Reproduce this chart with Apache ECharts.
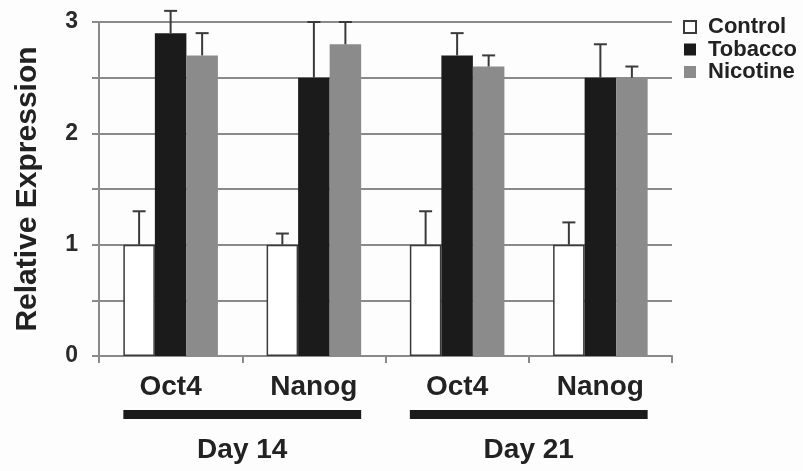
<!DOCTYPE html>
<html>
<head>
<meta charset="utf-8">
<script src="https://cdn.jsdelivr.net/npm/echarts@6/dist/echarts.min.js"></script>
<style>
  html, body { margin: 0; padding: 0; background: #fdfdfd; }
  #chart { width: 803px; height: 471px; }
</style>
</head>
<body>
<div id="chart"></div>
<script>
// Genes measured at each time point
const genes = ['Oct4', 'Nanog', 'Oct4', 'Nanog'];
const days = ['Day 14', 'Day 21'];
const yTicks = [0, 1, 2, 3];

// Mean relative expression and upper error (SD) per treatment
const controlMean  = [1.0, 1.0, 1.0, 1.0];
const controlErr   = [0.3, 0.1, 0.3, 0.2];
const tobaccoMean  = [2.9, 2.5, 2.7, 2.5];
const tobaccoErr   = [0.2, 0.5, 0.2, 0.3];
const nicotineMean = [2.7, 2.8, 2.6, 2.5];
const nicotineErr  = [0.2, 0.2, 0.1, 0.1];

const GROUP_FRACTION = 0.66;   // share of each category taken by the three bars
const FONT = 'Liberation Sans, Arial, sans-serif';

const treatments = [
  { name: 'Control',  mean: controlMean,  err: controlErr,
    style: { color: '#ffffff', borderColor: '#3a3a3a', borderWidth: 1.5 } },
  { name: 'Tobacco',  mean: tobaccoMean,  err: tobaccoErr,
    style: { color: '#1b1b1b' } },
  { name: 'Nicotine', mean: nicotineMean, err: nicotineErr,
    style: { color: '#8b8b8b' } }
];

const barSeries = treatments.map(t => ({
  name: t.name,
  type: 'bar',
  xAxisIndex: 0,
  data: t.mean,
  barGap: '0%',
  barCategoryGap: ((1 - GROUP_FRACTION) * 100) + '%',
  itemStyle: t.style,
  z: 2
}));

// Upper error bars: [category index, mean, error, position in group]
const errData = [];
treatments.forEach((t, k) => {
  t.mean.forEach((m, i) => errData.push([i, m, t.err[i], k]));
});

const errorSeries = {
  type: 'custom',
  xAxisIndex: 0,
  z: 5,
  silent: true,
  data: errData,
  renderItem: function (params, api) {
    const ci = api.value(0), m = api.value(1), e = api.value(2), k = api.value(3);
    const catW = api.size([1, 0])[0];
    const barW = catW * GROUP_FRACTION / 3;
    const cx = api.coord([ci, 0])[0] + (k - 1) * barW;
    const yTop = api.coord([ci, m])[1];
    const yCap = api.coord([ci, m + e])[1];
    const capHalf = 6.5;
    const st = { stroke: '#3a3a3a', lineWidth: 2 };
    return {
      type: 'group',
      children: [
        { type: 'line', shape: { x1: cx, y1: yTop, x2: cx, y2: yCap }, style: st },
        { type: 'line', shape: { x1: cx - capHalf, y1: yCap, x2: cx + capHalf, y2: yCap }, style: st }
      ]
    };
  }
};

const chart = echarts.init(document.getElementById('chart'));

chart.setOption({
  backgroundColor: '#fdfdfd',
  animation: false,
  textStyle: { fontFamily: FONT },
  grid: { left: 99, right: 131, top: 22, bottom: 115 },
  legend: {
    data: treatments.map(t => ({ name: t.name, icon: 'rect' })),
    orient: 'vertical',
    left: 683,
    top: 16,
    padding: 0,
    itemWidth: 12,
    itemHeight: 12,
    itemGap: 0.5,
    textStyle: { fontSize: 22, fontWeight: 'bold', color: '#222', fontFamily: FONT, padding: [0, 0, 0, 7] }
  },
  xAxis: [
    {
      type: 'category',
      data: genes,
      position: 'bottom',
      axisLine: { lineStyle: { color: '#8a8a8a', width: 2 } },
      axisTick: { show: true, length: 7, lineStyle: { color: '#8a8a8a', width: 2 } },
      axisLabel: { margin: 17, fontSize: 28, fontWeight: 'bold', color: '#222', fontFamily: FONT },
      splitLine: { show: false }
    },
    {
      type: 'category',
      data: days,
      position: 'bottom',
      axisLine: { show: false },
      axisTick: { show: false },
      axisLabel: { margin: 80, fontSize: 28, fontWeight: 'bold', color: '#222', fontFamily: FONT },
      splitLine: { show: false }
    }
  ],
  yAxis: {
    type: 'value',
    min: 0,
    max: 3,
    interval: 0.5,
    name: 'Relative Expression',
    nameLocation: 'middle',
    nameGap: 56,
    nameRotate: 90,
    nameTextStyle: { fontSize: 30, fontWeight: 'bold', color: '#222', fontFamily: FONT },
    axisLine: { show: true, lineStyle: { color: '#8a8a8a', width: 2 } },
    axisTick: { show: true, length: 7, lineStyle: { color: '#8a8a8a', width: 2 } },
    axisLabel: {
      margin: 21,
      fontSize: 23,
      fontWeight: 'bold',
      color: '#2a2a2a',
      fontFamily: FONT,
      formatter: v => (yTicks.indexOf(v) >= 0 ? String(v) : '')
    },
    splitLine: { show: true, lineStyle: { color: '#8a8a8a', width: 2 } }
  },
  series: barSeries.concat([errorSeries])
});

// Thick bars under each day's pair of genes, spanning the outer bar edges
function dayBars() {
  const c0 = chart.convertToPixel({ xAxisIndex: 0 }, 0);
  const c1 = chart.convertToPixel({ xAxisIndex: 0 }, 1);
  const catW = c1 - c0;
  const half = catW * GROUP_FRACTION / 2;
  const yAxisPx = chart.convertToPixel({ yAxisIndex: 0 }, 0);
  const rects = [];
  for (let d = 0; d < days.length; d++) {
    const first = chart.convertToPixel({ xAxisIndex: 0 }, d * 2);
    const last = chart.convertToPixel({ xAxisIndex: 0 }, d * 2 + 1);
    rects.push({
      type: 'rect',
      shape: { x: first - half, y: yAxisPx + 54, width: (last + half) - (first - half), height: 9 },
      style: { fill: '#1b1b1b' }
    });
  }
  chart.setOption({ graphic: rects });
}
dayBars();
</script>
</body>
</html>
